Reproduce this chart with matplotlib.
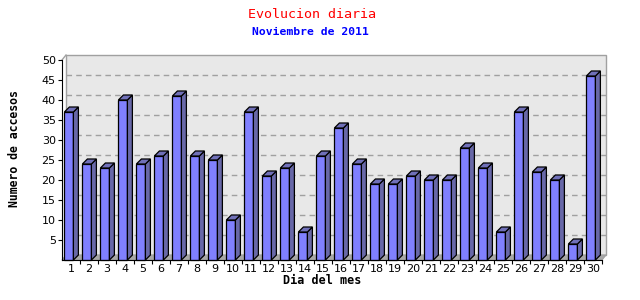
import matplotlib
matplotlib.use("Agg")
import matplotlib.pyplot as plt
from matplotlib.patches import Polygon
import numpy as np

days = [str(d) for d in range(1, 31)]
accesses = [37, 24, 23, 40, 24, 26, 41, 26, 25, 10,
            37, 21, 23, 7, 26, 33, 24, 19, 19, 21,
            20, 20, 28, 23, 7, 37, 22, 20, 4, 46]
y_ticks = [5, 10, 15, 20, 25, 30, 35, 40, 45, 50]

title = "Evolucion diaria"
subtitle = "Noviembre de 2011"
xlabel = "Dia del mes"
ylabel = "Numero de accesos"

W, H = 640, 300
fig = plt.figure(figsize=(6.4, 3.0), dpi=100)
fig.patch.set_facecolor("white")

# axes pixel box
left_px, right_px, top_px, bottom_px = 62, 602, 60, 260
ax = fig.add_axes([left_px / W, (H - bottom_px) / H,
                   (right_px - left_px) / W, (bottom_px - top_px) / H])
n = len(days)
ymax = 50
ax.set_xlim(0, n)
ax.set_ylim(0, ymax)
ax.set_facecolor("none")

px_x = n / (right_px - left_px)      # data units per pixel (x)
px_y = ymax / (bottom_px - top_px)   # data units per pixel (y)
ddx, ddy = 4 * px_x, 5 * px_y        # back plane depth
bdx, bdy = 5 * px_x, 5 * px_y        # bar depth

# back plane
back = Polygon([(ddx, ddy), (n + ddx, ddy), (n + ddx, ymax + ddy), (ddx, ymax + ddy)],
               closed=True, facecolor="#e8e8e8", edgecolor="#a0a0a0", lw=1.0,
               clip_on=False, zorder=0)
ax.add_patch(back)
# floor
floor = Polygon([(0, 0), (n, 0), (n + ddx, ddy), (ddx, ddy)], closed=True,
                facecolor="#a8a8a8", edgecolor="#a0a0a0", lw=0.8, clip_on=False, zorder=0.5)
ax.add_patch(floor)
# left side diagonal
ax.plot([0, ddx], [ymax, ymax + ddy], color="#a0a0a0", lw=1.0, clip_on=False, zorder=0.6)

# gridlines on back plane
for t in y_ticks[:-1]:
    ax.plot([ddx, n + ddx], [t + ddy, t + ddy], color="#a0a0a0", lw=1.0,
            ls=(0, (4, 3)), clip_on=False, zorder=0.7)

front_c = "#8080ff"
side_c = "#6868a8"
top_c = "#7070b8"
bw = 9 * px_x
off = 2.4 * px_x
for i, v in enumerate(accesses):
    x0 = i + off
    x1 = x0 + bw
    ax.add_patch(Polygon([(x0, 0), (x1, 0), (x1, v), (x0, v)], closed=True,
                         facecolor=front_c, edgecolor="black", lw=0.9, zorder=3,
                         clip_on=False))
    ax.add_patch(Polygon([(x1, 0), (x1 + bdx, bdy), (x1 + bdx, v + bdy), (x1, v)],
                         closed=True, facecolor=side_c, edgecolor="black", lw=0.9,
                         zorder=3, clip_on=False))
    ax.add_patch(Polygon([(x0, v), (x0 + bdx, v + bdy), (x1 + bdx, v + bdy), (x1, v)],
                         closed=True, facecolor=top_c, edgecolor="black", lw=0.9,
                         zorder=3, clip_on=False))

for s in ["top", "right"]:
    ax.spines[s].set_visible(False)
ax.spines["left"].set_color("black")
ax.spines["bottom"].set_color("black")
ax.spines["left"].set_zorder(4)
ax.spines["bottom"].set_zorder(4)

font = "DejaVu Sans"
ax.set_yticks(y_ticks)
ax.set_yticklabels([str(t) for t in y_ticks], fontsize=8, family=font)
ax.tick_params(axis="y", direction="out", length=3, width=0.8, pad=1.5)

ax.set_xticks(np.arange(n) + 0.5)
ax.set_xticklabels(days, fontsize=8, family=font)
ax.tick_params(axis="x", which="major", length=0, pad=3)
ax.set_xticks(np.arange(1, n + 1), minor=True)
ax.tick_params(axis="x", which="minor", direction="out", length=3, width=0.8)

fig.text(322 / W, 1 - 281 / H, xlabel, ha="center", va="center", fontsize=8.5,
         fontweight="bold", family="DejaVu Sans Mono")
fig.text(15 / W, 1 - 149 / H, ylabel, ha="center", va="center", rotation=90,
         fontsize=8.3, fontweight="bold", family="DejaVu Sans Mono")
fig.text(312.5 / W, 1 - 14 / H, title, ha="center", va="center", fontsize=9.6,
         color="#ff0000", family="DejaVu Sans Mono")
fig.text(310.5 / W, 1 - 32 / H, subtitle, ha="center", va="center", fontsize=8.2,
         color="#0000ff", fontweight="bold", family="DejaVu Sans Mono")

fig.savefig("out.png", dpi=100)
